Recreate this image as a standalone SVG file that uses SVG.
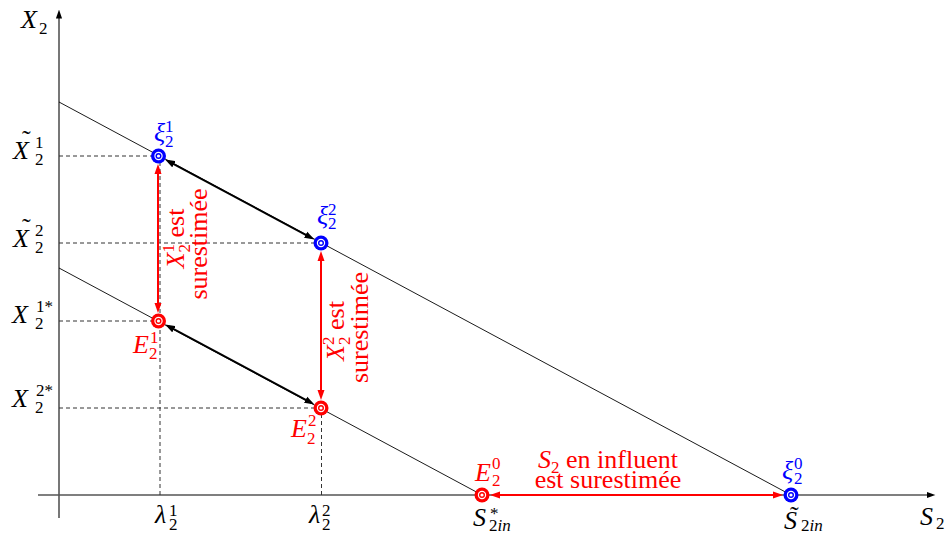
<svg xmlns="http://www.w3.org/2000/svg" width="946" height="536" viewBox="0 0 946 536" font-family="Liberation Serif, DejaVu Serif, serif">
<style>
text { font-size: 26px; fill: #000; }
.m { font-style: italic; }
.s { font-size: 17px; font-style: normal; }
.si { font-size: 17px; font-style: italic; }
.red { fill: red; }
.blue { fill: blue; }
.axis { stroke: #555; stroke-width: 1.6; fill: none; marker-end: url(#ah-ax); }
.curve { stroke: #000; stroke-width: 0.9; fill: none; }
.dash { stroke: #333; stroke-width: 1; stroke-dasharray: 4 3; fill: none; }
.barr { stroke: #000; stroke-width: 2; fill: none; marker-start: url(#ah-k); marker-end: url(#ah-k); }
.rarr { stroke: red; stroke-width: 2; fill: none; marker-start: url(#ah-r); marker-end: url(#ah-r); }
</style>
<defs>
  <marker id="ah-k" viewBox="0 0 10 8" refX="6" refY="4" markerWidth="10" markerHeight="8" markerUnits="userSpaceOnUse" orient="auto-start-reverse">
    <path d="M0,0.5 L10,4 L0,7.5 z" fill="#000"/>
  </marker>
  <marker id="ah-r" viewBox="0 0 10 8" refX="6" refY="4" markerWidth="10" markerHeight="8" markerUnits="userSpaceOnUse" orient="auto-start-reverse">
    <path d="M0,0.5 L10,4 L0,7.5 z" fill="red"/>
  </marker>
  <marker id="ah-ax" viewBox="0 0 10 8" refX="5" refY="4" markerWidth="9" markerHeight="7" markerUnits="userSpaceOnUse" orient="auto">
    <path d="M0,0.5 L10,4 L0,7.5 z" fill="#000"/>
  </marker>
  <g id="dot">
    <circle r="7.5" fill="currentColor"/>
    <circle r="4.2" fill="#fff"/>
    <circle r="3" fill="currentColor"/>
    <circle r="1.6" fill="#fff"/>
  </g>
</defs>

<g id="axes">
  <path class="axis" d="M59,518 V14"/>
  <path class="axis" d="M38,495 H931"/>
  <text x="21" y="28"><tspan class="m">X</tspan><tspan class="s" x="39" y="34">2</tspan></text>
  <text x="920" y="525"><tspan class="m">S</tspan><tspan class="s" x="936" y="529">2</tspan></text>
</g>

<g id="lines">
  <path class="curve" d="M59,102 L791,495"/>
  <path class="curve" d="M59,268 L482,495"/>
</g>

<g id="guides">
  <path class="dash" d="M59,156 H152"/>
  <path class="dash" d="M59,243 H315"/>
  <path class="dash" d="M59,321 H152"/>
  <path class="dash" d="M59,408 H315"/>
  <path class="dash" d="M160,162 V495"/>
  <path class="dash" d="M321.5,414 V495"/>
</g>

<g id="axis-labels">
  <text x="13" y="159"><tspan class="m">X</tspan><tspan x="22" y="148">˜</tspan><tspan class="s" x="35" y="165">2</tspan><tspan class="s" x="35" y="148">1</tspan></text>
  <text x="13" y="247"><tspan class="m">X</tspan><tspan x="22" y="236">˜</tspan><tspan class="s" x="35" y="253">2</tspan><tspan class="s" x="35" y="236">2</tspan></text>
  <text x="12" y="323"><tspan class="m">X</tspan><tspan class="s" x="35" y="329">2</tspan><tspan class="s" x="36" y="312">1*</tspan></text>
  <text x="12" y="407"><tspan class="m">X</tspan><tspan class="s" x="35" y="413">2</tspan><tspan class="s" x="36" y="396">2*</tspan></text>
  <text x="155" y="523"><tspan class="m">λ</tspan><tspan class="s" x="169" y="530">2</tspan><tspan class="s" x="169" y="516">1</tspan></text>
  <text x="309" y="523"><tspan class="m">λ</tspan><tspan class="s" x="322" y="530">2</tspan><tspan class="s" x="322" y="516">2</tspan></text>
  <text x="473" y="526"><tspan class="m">S</tspan><tspan class="s" x="490" y="519">*</tspan><tspan class="s" x="489" y="531">2</tspan><tspan class="si">in</tspan></text>
  <text x="784" y="529"><tspan class="m">S</tspan><tspan x="790" y="524">˜</tspan><tspan class="s" x="801" y="531">2</tspan><tspan class="si">in</tspan></text>
</g>

<g id="connectors">
  <path class="barr" d="M168.6,161.4 L310.9,237.6"/>
  <path class="barr" d="M168.6,326.4 L310.9,402.6"/>
  <path class="rarr" d="M158,168 V309"/>
  <path class="rarr" d="M321,255 V396"/>
  <path class="rarr" d="M494,495 H779"/>
</g>

<g id="node-xi1">
  <use href="#dot" x="158.5" y="156" color="blue"/>
  <text class="blue" x="154" y="141"><tspan class="m">ξ</tspan><tspan class="s" x="165" y="147">2</tspan><tspan class="s" x="165" y="132">1</tspan></text>
</g>
<g id="node-xi2">
  <use href="#dot" x="321" y="243" color="blue"/>
  <text class="blue" x="317" y="224"><tspan class="m">ξ</tspan><tspan class="s" x="328" y="229">2</tspan><tspan class="s" x="328" y="215">2</tspan></text>
</g>
<g id="node-xi0">
  <use href="#dot" x="791" y="495" color="blue"/>
  <text class="blue" x="782" y="479"><tspan class="m">ξ</tspan><tspan class="s" x="794" y="484">2</tspan><tspan class="s" x="794" y="469">0</tspan></text>
</g>
<g id="node-E1">
  <use href="#dot" x="158.5" y="321" color="red"/>
  <text class="red" x="133" y="353"><tspan class="m">E</tspan><tspan class="s" x="149" y="359">2</tspan><tspan class="s" x="150" y="343">1</tspan></text>
</g>
<g id="node-E2">
  <use href="#dot" x="321" y="408" color="red"/>
  <text class="red" x="291" y="437"><tspan class="m">E</tspan><tspan class="s" x="307" y="444">2</tspan><tspan class="s" x="308" y="426">2</tspan></text>
</g>
<g id="node-E0">
  <use href="#dot" x="482" y="495" color="red"/>
  <text class="red" x="475" y="481"><tspan class="m">E</tspan><tspan class="s" x="492" y="486">2</tspan><tspan class="s" x="492" y="469">0</tspan></text>
</g>

<g id="annotations">
  <text class="red" text-anchor="middle" transform="translate(184,238.5) rotate(-90)"><tspan class="m">X</tspan><tspan class="s" dy="6">2</tspan><tspan class="s" dx="-8.5" dy="-16">1</tspan><tspan dy="10"> est</tspan></text>
  <text class="red" text-anchor="middle" transform="translate(207,244) rotate(-90)">surestimée</text>
  <text class="red" text-anchor="middle" transform="translate(344,331) rotate(-90)"><tspan class="m">X</tspan><tspan class="s" dy="6">2</tspan><tspan class="s" dx="-8.5" dy="-16">2</tspan><tspan dy="10"> est</tspan></text>
  <text class="red" text-anchor="middle" transform="translate(368,327.5) rotate(-90)">surestimée</text>
  <text class="red" text-anchor="middle" x="608" y="468"><tspan class="m">S</tspan><tspan class="s" dy="5">2</tspan><tspan dy="-5"> en influent</tspan></text>
  <text class="red" text-anchor="middle" x="608" y="488">est surestimée</text>
</g>
</svg>
